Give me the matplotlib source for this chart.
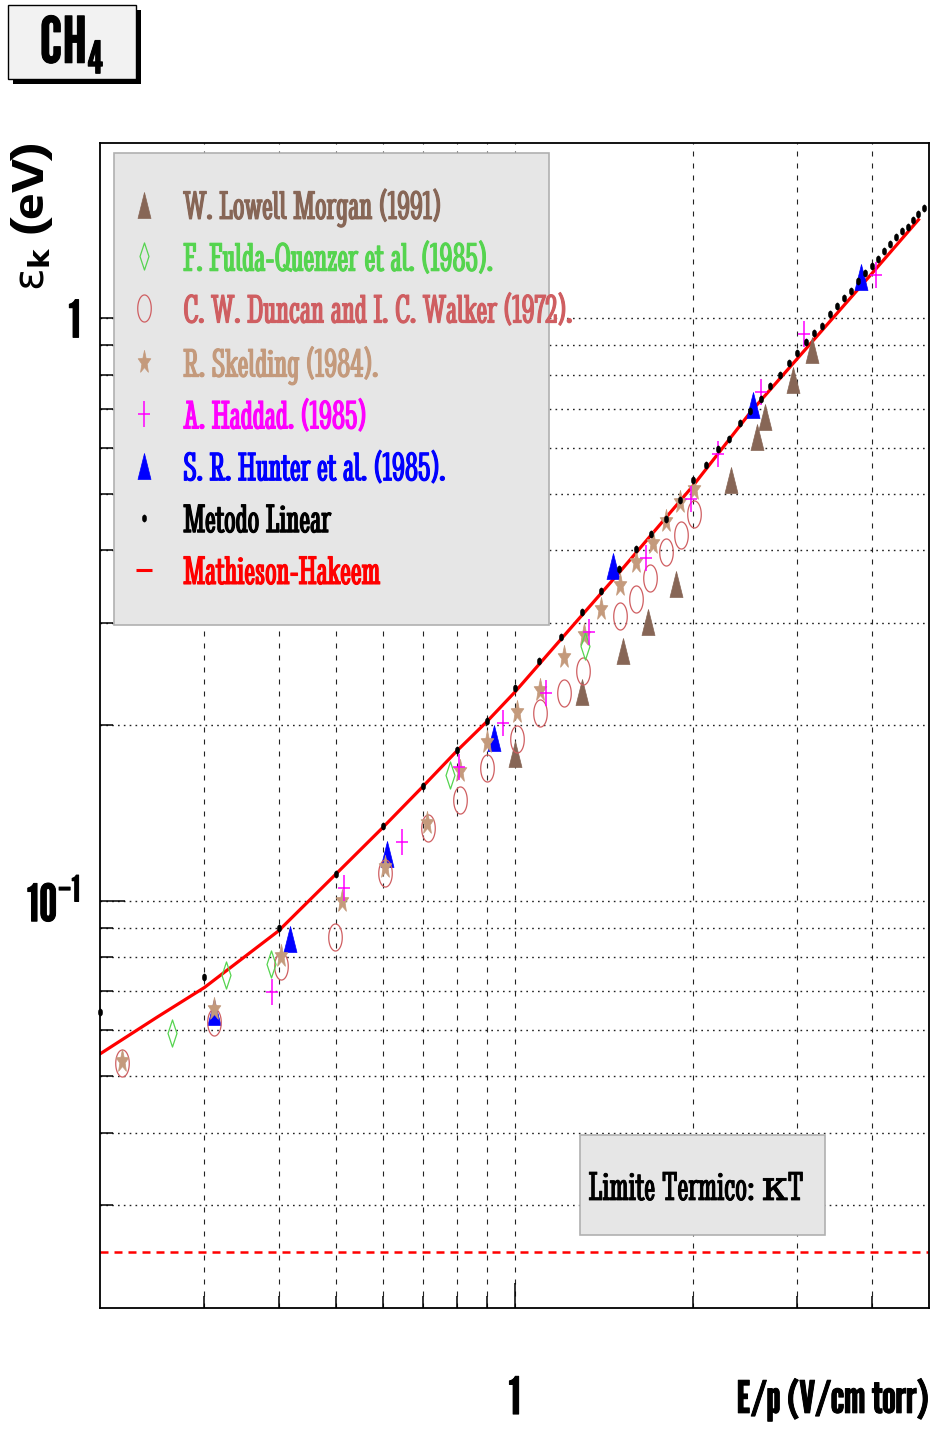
import numpy as np
import matplotlib
matplotlib.use("Agg")
import matplotlib.pyplot as plt
import matplotlib.patheffects as pe
from matplotlib.patches import Rectangle
from matplotlib.lines import Line2D
from matplotlib.path import Path
from matplotlib.font_manager import FontProperties

plt.rcParams['mathtext.fontset'] = 'custom'
plt.rcParams['mathtext.rm'] = 'League Gothic'
plt.rcParams['mathtext.it'] = 'League Gothic'
plt.rcParams['mathtext.bf'] = 'League Gothic'

# ---------------- data (E/p in V/cm torr, mean energy in eV) ----------------
morgan_x = [1.00, 1.30, 1.525, 1.68, 1.87, 2.32, 2.56, 2.65, 2.95, 3.17]
morgan_y = [0.1789, 0.228, 0.2689, 0.3008, 0.350, 0.5268, 0.6252, 0.6767, 0.7825, 0.8834]

fulda_x = [0.264, 0.3256, 0.3878, 0.777, 1.317]
fulda_y = [0.0592, 0.0746, 0.0778, 0.1646, 0.2742]

duncan_x = [0.2175, 0.3108, 0.4043, 0.4972, 0.6058, 0.7142, 0.8079, 0.8995, 1.0105,
            1.105, 1.211, 1.306, 1.508, 1.600, 1.694, 1.804, 1.912, 2.006]
duncan_y = [0.0527, 0.0620, 0.0773, 0.0867, 0.1117, 0.1336, 0.1491, 0.1693, 0.1896,
            0.2100, 0.2275, 0.2484, 0.3083, 0.3294, 0.3589, 0.3970, 0.4250, 0.4620]

skelding_x = [0.2175, 0.311, 0.4043, 0.512, 0.6058, 0.7125, 0.809, 0.8995, 1.0105, 1.103,
              1.211, 1.309, 1.400, 1.509, 1.602, 1.709, 1.802, 1.905, 2.006]
skelding_y = [0.0531, 0.0652, 0.0804, 0.100, 0.1141, 0.1363, 0.1668, 0.1876, 0.2107, 0.2305,
              0.2618, 0.2861, 0.3170, 0.3491, 0.3824, 0.4107, 0.4497, 0.4835, 0.5098]

haddad_x = [0.3904, 0.5168, 0.6464, 0.8056, 0.9545, 1.132, 1.335, 1.666, 1.986, 2.202,
            2.609, 3.075, 4.077]
haddad_y = [0.0698, 0.1054, 0.1260, 0.1695, 0.2018, 0.2271, 0.2891, 0.3875, 0.4900, 0.5855,
            0.7461, 0.9387, 1.186]

hunter_x = [0.311, 0.418, 0.610, 0.925, 1.467, 2.520, 3.837]
hunter_y = [0.0645, 0.0859, 0.1203, 0.1906, 0.3763, 0.7087, 1.178]

linear_x = [0.2, 0.3, 0.4, 0.5, 0.6, 0.7, 0.8, 0.9, 1.0,
            1.1, 1.2, 1.3, 1.4, 1.5, 1.6, 1.7, 1.8, 1.9,
            2.0, 2.1, 2.2, 2.3, 2.4, 2.5, 2.6, 2.7, 2.8, 2.9,
            3.0, 3.1, 3.2, 3.3, 3.4, 3.5, 3.6, 3.7, 3.8, 3.9,
            4.0, 4.1, 4.2, 4.3, 4.4, 4.5, 4.6, 4.7, 4.8, 4.9]
linear_y = [0.0645, 0.0740, 0.0899, 0.1113, 0.1342, 0.1574, 0.1815, 0.2036, 0.2316,
            0.2585, 0.2838, 0.3133, 0.3399, 0.3712, 0.4025, 0.4271, 0.4532, 0.4873,
            0.5268, 0.5590, 0.5955, 0.6196, 0.6600, 0.692, 0.7259, 0.7649, 0.7982, 0.8391,
            0.8708, 0.9106, 0.9450, 0.9716, 1.016, 1.0515, 1.0835, 1.114, 1.158, 1.198,
            1.232, 1.264, 1.305, 1.340, 1.378, 1.413, 1.435, 1.474, 1.511, 1.549]

mh_x = [0.2, 0.25, 0.3, 0.4, 0.5, 0.6, 0.7, 0.8, 0.9, 1.0, 1.5, 2.0, 2.5, 3.0, 4.0, 4.8]
mh_y = [0.0546, 0.0632, 0.0710, 0.0888, 0.1112, 0.1337, 0.1570, 0.1810, 0.2035, 0.2279,
        0.3656, 0.5159, 0.690, 0.8533, 1.192, 1.477]

kT = 0.025

xlim = (0.2, 5.0)
ylim = (0.02, 2.0)
x_major = [1.0]
x_major_labels = ['1']
x_minor = [0.3, 0.4, 0.5, 0.6, 0.7, 0.8, 0.9, 2.0, 3.0, 4.0]
y_major = [0.1, 1.0]
y_major_labels = ['10$^{-1}$', '1']
y_minor = [0.03, 0.04, 0.05, 0.06, 0.07, 0.08, 0.09, 0.2, 0.3, 0.4, 0.5, 0.6, 0.7, 0.8, 0.9]

labels = ['W. Lowell Morgan (1991)', 'F. Fulda-Quenzer et al. (1985).',
          'C. W. Duncan and I. C. Walker (1972).', 'R. Skelding (1984).',
          'A. Haddad. (1985)', 'S. R. Hunter et al. (1985).', 'Metodo Linear',
          'Mathieson-Hakeem']
c_morgan = '#876656'
c_fulda = '#55d44f'
c_duncan = '#cf5e61'
c_skelding = '#c49a7c'
c_haddad = '#ff00ff'
c_hunter = '#0000ff'
c_linear = '#000000'
c_mh = '#ff0000'
label_colors = [c_morgan, c_fulda, c_duncan, c_skelding, c_haddad, c_hunter, c_linear, c_mh]

# ---------------- marker shapes (squashed like the original) ----------------
t = np.linspace(0, 2 * np.pi, 49)
ellipse = Path(np.column_stack([0.5 * np.cos(t), np.sin(t)]), closed=True)
dot = Path(np.column_stack([0.6 * np.cos(t), np.sin(t)]), closed=True)
tri = Path([(0, 1), (-0.5, -1), (0.5, -1), (0, 1)], closed=True)
diamond = Path([(0, 1), (0.33, 0), (0, -1), (-0.33, 0), (0, 1)], closed=True)
ang = np.pi / 2 + np.arange(10) * np.pi / 5
rad = np.where(np.arange(10) % 2 == 0, 1.0, 0.42)
sv = np.column_stack([0.55 * rad * np.cos(ang), rad * np.sin(ang)])
star = Path(np.vstack([sv, sv[:1]]), closed=True)
plus = Path([(-0.5, 0), (0.5, 0), (0, -1), (0, 1)],
            [Path.MOVETO, Path.LINETO, Path.MOVETO, Path.LINETO])

bold_k = [pe.withStroke(linewidth=0.7, foreground='k')]

# ---------------- figure ----------------
W, H = 932, 1431
fig = plt.figure(figsize=(W / 100, H / 100), dpi=100)
ax = fig.add_axes([100 / W, 1 - 1308 / H, 829 / W, 1165 / H])
ax.set_xscale('log')
ax.set_yscale('log')
ax.set_xlim(*xlim)
ax.set_ylim(*ylim)

ax.set_xticks(x_major, labels=x_major_labels)
ax.set_xticks(x_minor, minor=True)
ax.set_yticks(y_major, labels=y_major_labels)
ax.set_yticks(y_minor, minor=True)
ax.xaxis.set_minor_formatter(matplotlib.ticker.NullFormatter())
ax.yaxis.set_minor_formatter(matplotlib.ticker.NullFormatter())

ax.tick_params(which='both', direction='in', top=False, right=False, width=1.1, color='k')
ax.tick_params(which='major', length=18)
ax.tick_params(which='minor', length=9)
ax.tick_params(axis='x', which='major', pad=49, labelsize=37, labelfontfamily='League Gothic')
ax.tick_params(axis='y', which='major', pad=14, labelsize=37, labelfontfamily='League Gothic')
for lab in ax.get_xticklabels() + ax.get_yticklabels():
    lab.set_path_effects(bold_k)
for s in ax.spines.values():
    s.set_linewidth(1.3)

ax.xaxis.grid(True, which='both', linestyle=(0, (4.5, 6.3)), linewidth=0.8, color='#222222')
ax.yaxis.grid(True, which='both', linestyle=(0, (1.2, 3.0)), linewidth=1.0, color='#222222')
ax.set_axisbelow(True)

# thermal limit
ax.axhline(kT, color=c_mh, linestyle=(0, (3.2, 2.4)), linewidth=1.8, zorder=2)

# model curve
ax.plot(mh_x, mh_y, color=c_mh, linewidth=2.3, zorder=2.5)

ms_big = 18.7
h_morgan, = ax.plot(morgan_x, morgan_y, ls='none', marker=tri, ms=ms_big,
                    mfc=c_morgan, mec=c_morgan, mew=0.5, zorder=3)
h_hunter, = ax.plot(hunter_x, hunter_y, ls='none', marker=tri, ms=ms_big,
                    mfc=c_hunter, mec=c_hunter, mew=0.5, zorder=3.1)
h_duncan, = ax.plot(duncan_x, duncan_y, ls='none', marker=ellipse, ms=19.5,
                    mfc='none', mec=c_duncan, mew=0.9, zorder=3.2)
h_skelding, = ax.plot(skelding_x, skelding_y, ls='none', marker=star, ms=17.5,
                      mfc=c_skelding, mec=c_skelding, mew=0.5, zorder=3.3)
h_fulda, = ax.plot(fulda_x, fulda_y, ls='none', marker=diamond, ms=19.5,
                   mfc='none', mec=c_fulda, mew=0.9, zorder=3.4)
h_haddad, = ax.plot(haddad_x, haddad_y, ls='none', marker=plus, ms=ms_big,
                    mfc='none', mec=c_haddad, mew=1.1, zorder=3.5)
h_linear, = ax.plot(linear_x, linear_y, ls='none', marker=dot, ms=5.2,
                    mfc=c_linear, mec=c_linear, mew=0.3, zorder=3.6, clip_on=False)
h_mh = Line2D([], [], ls='none', marker='_', ms=11, mew=2.2, color=c_mh)

# legend box
def axx(px):
    return (px - 100) / 829

def axy(py):
    return (1308 - py) / 1165

ax.add_patch(Rectangle((axx(114), axy(625)), axx(549) - axx(114), axy(153) - axy(625),
                       transform=ax.transAxes, facecolor='#e6e6e6', edgecolor='#b0b0b0',
                       linewidth=1.2, zorder=4))
legfont = FontProperties(family=['Stint Ultra Condensed', 'DejaVu Serif'], size=29.5)
leg = ax.legend([h_morgan, h_fulda, h_duncan, h_skelding, h_haddad, h_hunter, h_linear, h_mh],
                labels, loc='upper left', bbox_to_anchor=(axx(126), axy(188)),
                frameon=False, borderpad=0, borderaxespad=0, handlelength=0.9,
                handletextpad=0.5, labelspacing=0.37, prop=legfont, numpoints=1,
                labelcolor=label_colors)
leg.set_zorder(5)
for txt, col in zip(leg.get_texts(), label_colors):
    txt.set_path_effects([pe.withStroke(linewidth=0.8, foreground=col)])

# thermal-limit box
ax.add_patch(Rectangle((axx(580), axy(1235)), axx(825) - axx(580), axy(1135) - axy(1235),
                       transform=ax.transAxes, facecolor='#e6e6e6', edgecolor='#b0b0b0',
                       linewidth=1.2, zorder=4))
ax.text(axx(696), axy(1190), 'Limite Termico: κT', transform=ax.transAxes,
        ha='center', va='center', fontsize=30, color='k', zorder=5,
        family=['Stint Ultra Condensed', 'DejaVu Serif'],
        path_effects=[pe.withStroke(linewidth=0.6, foreground='k')])

# axis titles
ax.set_xlabel('E/p (V/cm torr)', loc='right', fontsize=32, family='League Gothic',
              path_effects=bold_k)
ax.xaxis.set_label_coords(1.0, -0.060)
ax.set_ylabel(r'$\mathrm{ε}_{\mathbf{k}}$ (eV)', loc='top', fontsize=30,
              family='Encode Sans Expanded', fontweight='bold',
              math_fontfamily='dejavusans')
ax.yaxis.set_label_coords(-0.054, 1.0)

# CH4 title box with shadow
fig.add_artist(Rectangle((13 / W, 1 - 84 / H), 128 / W, 74 / H, transform=fig.transFigure,
                         facecolor='k', edgecolor='k', linewidth=0))
fig.add_artist(Rectangle((8 / W, 1 - 79 / H), 128 / W, 74 / H, transform=fig.transFigure,
                         facecolor='#f2f2f2', edgecolor='k', linewidth=1.0))
fig.text(72 / W, 1 - 44 / H, 'CH$_4$', ha='center', va='center', fontsize=46,
         family='League Gothic', color='k', path_effects=bold_k)

fig.savefig('out.png', dpi=100)
